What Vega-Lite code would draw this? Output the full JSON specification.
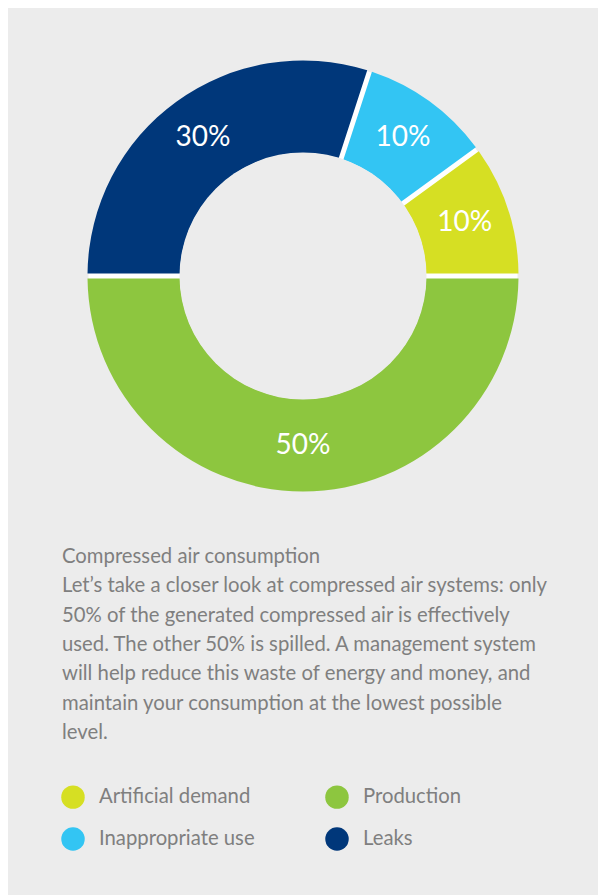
{
  "$schema": "https://vega.github.io/schema/vega-lite/v6.json",
  "background": "white",
  "padding": {"left": 8, "top": 8, "right": 0, "bottom": 1},
  "spacing": 0,
  "config": {"view": {"fill": "#ececec", "stroke": null}, "concat": {"spacing": 0}},
  "datasets": {
    "consumption": [
      {"category": "Artificial demand", "share": 0.1},
      {"category": "Inappropriate use", "share": 0.1},
      {"category": "Leaks", "share": 0.3},
      {"category": "Production", "share": 0.5}
    ],
    "caption": [
      {"line": 0, "text": "Compressed air consumption"},
      {"line": 1, "text": "Let’s take a closer look at compressed air systems: only"},
      {"line": 2, "text": "50% of the generated compressed air is effectively"},
      {"line": 3, "text": "used. The other 50% is spilled. A management system"},
      {"line": 4, "text": "will help reduce this waste of energy and money, and"},
      {"line": 5, "text": "maintain your consumption at the lowest possible"},
      {"line": 6, "text": "level."}
    ]
  },
  "vconcat": [
    {
      "width": 590,
      "height": 536,
      "layer": [
        {
          "data": {"values": [{"panel": "background"}]},
          "mark": {"type": "rect", "fill": "#ececec"},
          "encoding": {"x": {"value": 0}, "x2": {"value": "width"}, "y": {"value": 0}, "y2": {"value": "height"}}
        },
        {
          "data": {"values": [{"ring": "gap colour"}]},
          "mark": {"type": "arc", "innerRadius": 0, "outerRadius": 214.5, "theta": 0, "theta2": 6.2832, "fill": "white"},
          "encoding": {}
        },
        {
          "data": {"name": "consumption"},
          "mark": {"type": "arc", "innerRadius": 123, "outerRadius": 215.5, "padAngle": 0.02},
          "encoding": {
            "theta": {"field": "share", "type": "quantitative", "stack": true, "scale": {"range": [1.5708, -4.7124]}},
            "order": {"field": "category", "sort": "ascending"},
            "color": {
              "field": "category",
              "type": "nominal",
              "scale": {
                "domain": ["Artificial demand", "Inappropriate use", "Production", "Leaks"],
                "range": ["#d6df23", "#33c5f3", "#8dc63f", "#00377a"]
              },
              "legend": {
                "orient": "none",
                "legendX": 53,
                "legendY": 777,
                "columns": 2,
                "title": null,
                "padding": 0,
                "symbolType": "circle",
                "symbolSize": 550,
                "symbolStrokeWidth": 0,
                "labelFont": "Lato",
                "labelFontSize": 20.3,
                "labelColor": "#7f7f7f",
                "labelOffset": 14,
                "columnPadding": 70,
                "rowPadding": 18
              }
            }
          }
        },
        {
          "data": {"values": [{"hole": "centre"}]},
          "mark": {"type": "arc", "innerRadius": 0, "outerRadius": 123.5, "theta": 0, "theta2": 6.2832, "fill": "#ececec"},
          "encoding": {}
        },
        {
          "data": {"name": "consumption"},
          "mark": {"type": "text", "radius": 170, "font": "Lato", "fontSize": 28, "fill": "white"},
          "encoding": {
            "theta": {"field": "share", "type": "quantitative", "stack": true, "scale": {"range": [1.5708, -4.7124]}},
            "order": {"field": "category", "sort": "ascending"},
            "text": {"field": "share", "type": "quantitative", "format": ".0%"}
          }
        }
      ]
    },
    {
      "width": 590,
      "height": 351,
      "data": {"name": "caption"},
      "mark": {"type": "text", "align": "left", "baseline": "middle", "font": "Lato", "fontSize": 20.3, "fill": "#7f7f7f"},
      "encoding": {
        "x": {"value": 54},
        "y": {"field": "line", "type": "ordinal", "axis": null, "scale": {"type": "point", "range": [13, 189], "padding": 0}},
        "text": {"field": "text"}
      }
    }
  ]
}
